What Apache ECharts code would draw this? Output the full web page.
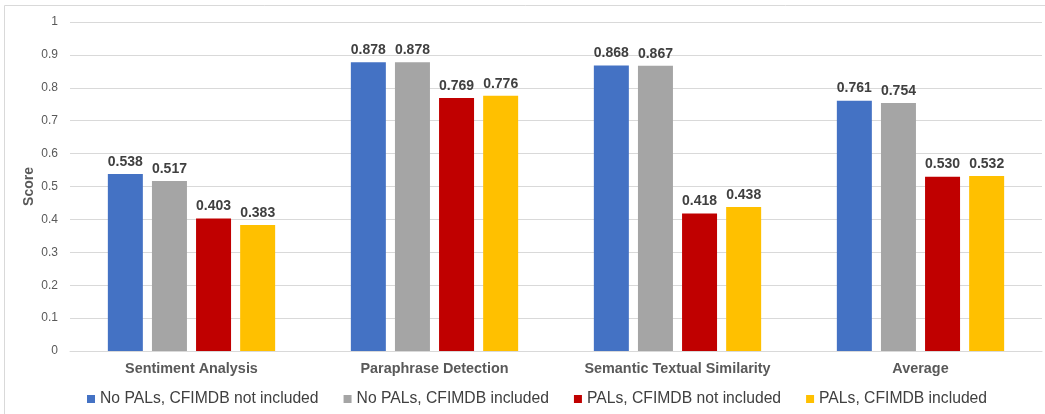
<!DOCTYPE html>
<html>
<head>
<meta charset="utf-8">
<script src="https://cdn.jsdelivr.net/npm/echarts@6/dist/echarts.min.js"></script>
<style>
  html, body { margin: 0; padding: 0; background: #fff; }
  #chart { width: 1045px; height: 414px; }
</style>
</head>
<body>
<div id="chart"></div>
<script>
// 数据
var categories = ['Sentiment Analysis', 'Paraphrase Detection', 'Semantic Textual Similarity', 'Average'];
var seriesNames = ['No PALs, CFIMDB not included', 'No PALs, CFIMDB included', 'PALs, CFIMDB not included', 'PALs, CFIMDB included'];
var noPalsNoCf = [0.538, 0.878, 0.868, 0.761];
var noPalsCf = [0.517, 0.878, 0.867, 0.754];
var palsNoCf = [0.403, 0.769, 0.418, 0.530];
var palsCf = [0.383, 0.776, 0.438, 0.532];
var colors = ['#4472C4', '#A5A5A5', '#C00000', '#FFC000'];

var font = 'Liberation Sans, Arial, sans-serif';

function makeSeries(name, data, color){
    return {
        name: name,
        type: 'bar',
        data: data,
        barWidth: 35,
        barGap: '26%',
        itemStyle: { color: color },
        label: {
            show: true,
            position: 'top',
            distance: 5,
            fontFamily: font,
            fontSize: 14,
            fontWeight: 'bold',
            color: '#404040',
            formatter: function(p){ return p.value.toFixed(3); }
        }
    };
}

var myChart = echarts.init(document.getElementById('chart'));
var option = {
    animation: false,
    textStyle: { fontFamily: font },
    graphic: [{
        type: 'rect',
        shape: { x: 4.5, y: 5.5, width: 1100, height: 500 },
        style: { fill: 'none', stroke: '#d9d9d9', lineWidth: 1 },
        silent: true
    }],
    grid: { left: 70, right: 3, top: 22, bottom: 63 },
    legend: {
        left: 82,
        top: 386,
        icon: 'rect',
        itemWidth: 8,
        itemHeight: 8,
        itemGap: 25,
        itemTextGap: 5,
        textStyle: { fontFamily: font, fontSize: 15.7, color: '#404040' },
        data: seriesNames
    },
    xAxis: {
        type: 'category',
        data: categories,
        axisLine: { lineStyle: { color: '#d9d9d9' } },
        axisTick: { show: false },
        axisLabel: {
            margin: 11,
            fontFamily: font,
            fontSize: 14.4,
            fontWeight: 'bold',
            color: '#595959'
        }
    },
    yAxis: {
        type: 'value',
        min: 0,
        max: 1,
        interval: 0.1,
        name: 'Score',
        nameLocation: 'middle',
        nameGap: 34,
        nameMoveOverlap: false,
        nameTextStyle: { fontFamily: font, fontSize: 14, fontWeight: 'bold', color: '#595959' },
        axisLine: { show: false },
        axisTick: { show: false },
        splitLine: { lineStyle: { color: '#d9d9d9' } },
        axisLabel: {
            margin: 12,
            fontFamily: font,
            fontSize: 12,
            color: '#595959',
            formatter: function(v){ return String(Math.round(v * 10) / 10); }
        }
    },
    series: [
        makeSeries(seriesNames[0], noPalsNoCf, colors[0]),
        makeSeries(seriesNames[1], noPalsCf, colors[1]),
        makeSeries(seriesNames[2], palsNoCf, colors[2]),
        makeSeries(seriesNames[3], palsCf, colors[3])
    ]
};
myChart.setOption(option);
</script>
</body>
</html>
